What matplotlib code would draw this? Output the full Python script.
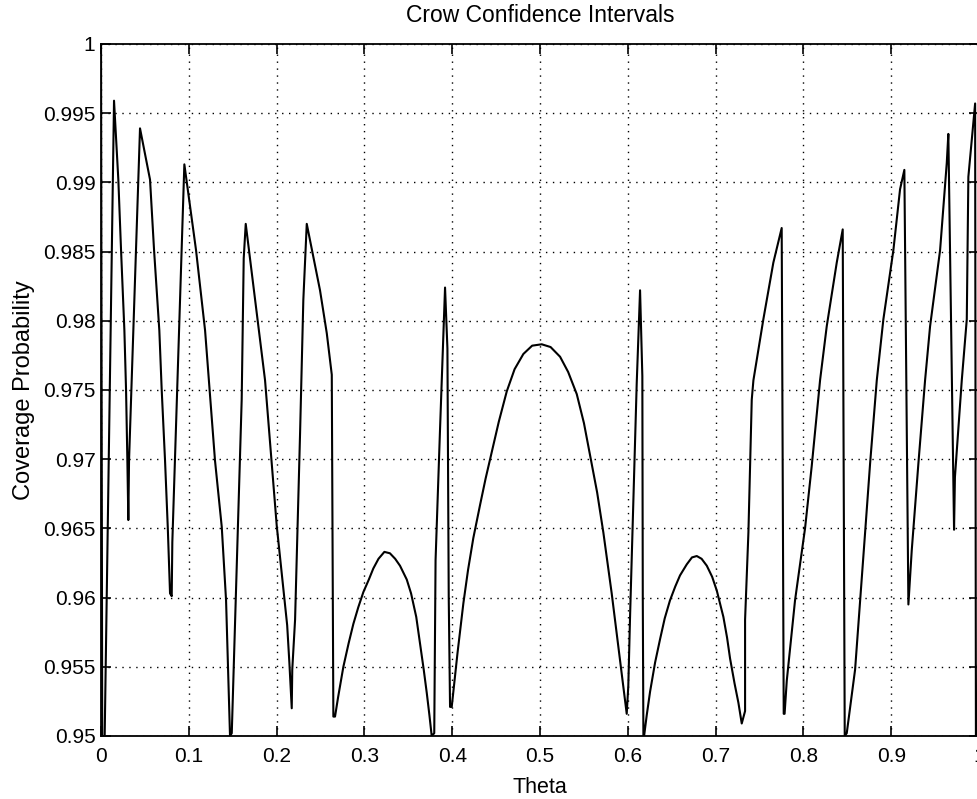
import numpy as np
import matplotlib
matplotlib.use("Agg")
import matplotlib.pyplot as plt

plt.rcParams['font.family'] = ['Liberation Sans', 'DejaVu Sans']

# coverage curve (theta, coverage)
theta = [
    0.0, 0.0015, 0.003, 0.0148, 0.0197, 0.0228, 0.0266, 0.0285, 0.0300, 0.0311,
    0.0319, 0.0444, 0.0558, 0.0604, 0.0664, 0.0691, 0.0729, 0.0760, 0.0786, 0.0805,
    0.0812, 0.0949, 0.1082, 0.1185, 0.1298, 0.1375, 0.1424, 0.1469, 0.1489, 0.1602,
    0.1625, 0.1648, 0.1868, 0.2001, 0.2120, 0.2145, 0.2172, 0.2178, 0.2210, 0.2267,
    0.2304, 0.2343, 0.2494, 0.2571, 0.2628, 0.2646, 0.2665, 0.2700, 0.2760, 0.2820,
    0.2874, 0.2930, 0.2988, 0.3050, 0.3101, 0.3160, 0.3227, 0.3290, 0.3350, 0.3405,
    0.3482, 0.3531, 0.3590, 0.3633, 0.3675, 0.3710, 0.3740, 0.3766, 0.3795, 0.3810,
    0.3860, 0.3918, 0.3945, 0.3960, 0.3975, 0.3994, 0.4060, 0.4127, 0.4180, 0.4240,
    0.4317, 0.4380, 0.4431, 0.4530, 0.4621, 0.4710, 0.4810, 0.4910, 0.5019, 0.5120,
    0.5228, 0.5320, 0.5418, 0.5500, 0.5569, 0.5650, 0.5721, 0.5816, 0.5905, 0.5987,
    0.6005, 0.6025, 0.6101, 0.6139, 0.6165, 0.6170, 0.6177, 0.6185, 0.6215, 0.6253,
    0.6310, 0.6367, 0.6420, 0.6480, 0.6540, 0.6594, 0.6671, 0.6730, 0.6785, 0.6840,
    0.6899, 0.6960, 0.7013, 0.7088, 0.7130, 0.7164, 0.7215, 0.7259, 0.7297, 0.7335,
    0.7335, 0.7373, 0.7392, 0.7411, 0.7430, 0.7543, 0.7657, 0.7752, 0.7775, 0.7785,
    0.7810, 0.7904, 0.8018, 0.8094, 0.8189, 0.8265, 0.8379, 0.8447, 0.8470, 0.8493,
    0.8588, 0.8645, 0.8702, 0.8759, 0.8835, 0.8910, 0.9024, 0.9100, 0.9149, 0.9195,
    0.9233, 0.9309, 0.9385, 0.9442, 0.9556, 0.9632, 0.9650, 0.9715, 0.9725, 0.9803,
    0.9860, 0.9878, 0.9955, 0.9965, 0.9985, 1.0,
]
coverage = [
    1.0, 0.945, 0.945, 0.9959, 0.9902, 0.9851, 0.9793, 0.9750, 0.9699, 0.9656,
    0.9699, 0.9939, 0.9902, 0.9851, 0.9793, 0.9750, 0.9699, 0.9651, 0.9603, 0.9601,
    0.9640, 0.9913, 0.9851, 0.9793, 0.9699, 0.9651, 0.9598, 0.9500, 0.9502, 0.9743,
    0.9845, 0.9870, 0.9757, 0.9652, 0.9580, 0.9553, 0.9520, 0.9548, 0.9584, 0.9719,
    0.9815, 0.9870, 0.9822, 0.9791, 0.9761, 0.9514, 0.9514, 0.9528, 0.9550, 0.9567,
    0.9581, 0.9593, 0.9604, 0.9613, 0.9621, 0.9628, 0.9633, 0.9632, 0.9628, 0.9623,
    0.9613, 0.9603, 0.9586, 0.9567, 0.9548, 0.9531, 0.9515, 0.9500, 0.9502, 0.9627,
    0.9720, 0.9824, 0.9780, 0.9600, 0.9521, 0.9521, 0.9560, 0.9596, 0.9620, 0.9643,
    0.9667, 0.9686, 0.9700, 0.9727, 0.9749, 0.9765, 0.9776, 0.9782, 0.9783, 0.9781,
    0.9774, 0.9763, 0.9747, 0.9726, 0.9703, 0.9676, 0.9647, 0.9603, 0.9558, 0.9516,
    0.9536, 0.9586, 0.9755, 0.9822, 0.9760, 0.9600, 0.9500, 0.9500, 0.9515, 0.9532,
    0.9553, 0.9570, 0.9585, 0.9598, 0.9608, 0.9616, 0.9624, 0.9629, 0.9630, 0.9628,
    0.9623, 0.9615, 0.9605, 0.9586, 0.9571, 0.9556, 0.9538, 0.9524, 0.9509, 0.9518,
    0.9584, 0.9647, 0.9695, 0.9743, 0.9757, 0.9801, 0.9842, 0.9867, 0.9516, 0.9516,
    0.9540, 0.9598, 0.9650, 0.9695, 0.9757, 0.9796, 0.9842, 0.9866, 0.9500, 0.9502,
    0.9548, 0.9597, 0.9647, 0.9697, 0.9757, 0.9801, 0.9851, 0.9895, 0.9909, 0.9595,
    0.9634, 0.9697, 0.9757, 0.9796, 0.9851, 0.9914, 0.9935, 0.9649, 0.9687, 0.9757,
    0.9801, 0.9904, 0.9957, 0.9450, 0.9450, 1.0,
]

xticks = [0, 0.1, 0.2, 0.3, 0.4, 0.5, 0.6, 0.7, 0.8, 0.9, 1]
xticklabels = ['0', '0.1', '0.2', '0.3', '0.4', '0.5', '0.6', '0.7', '0.8', '0.9', '1']
yticks = [0.95, 0.955, 0.96, 0.965, 0.97, 0.975, 0.98, 0.985, 0.99, 0.995, 1]
yticklabels = ['0.95', '0.955', '0.96', '0.965', '0.97', '0.975', '0.98', '0.985', '0.99', '0.995', '1']

fig = plt.figure(figsize=(9.78, 7.99), dpi=100)
ax = fig.add_axes([0.1033, 0.0789, 0.8978, 0.8661])

ax.plot(theta, coverage, color='k', linewidth=1.5)

ax.set_xlim(0, 1)
ax.set_ylim(0.95, 1)
ax.set_xticks(xticks)
ax.set_xticklabels(xticklabels)
ax.set_yticks(yticks)
ax.set_yticklabels(yticklabels)
ax.tick_params(direction='in', top=True, right=True, length=7, width=1.2,
               labelsize=15, pad=4)
ax.tick_params(axis='x', pad=8)
ax.grid(True, color='k', linestyle=(0, (1, 4)), linewidth=1.0)
for s in ax.spines.values():
    s.set_linewidth(1.3)

ax.set_title('Crow Confidence Intervals', fontsize=16.5, pad=16)
ax.set_xlabel('Theta', fontsize=15.5, labelpad=8)
ax.set_ylabel('Coverage Probability', fontsize=17, labelpad=6)

fig.savefig('out.png', dpi=100)
